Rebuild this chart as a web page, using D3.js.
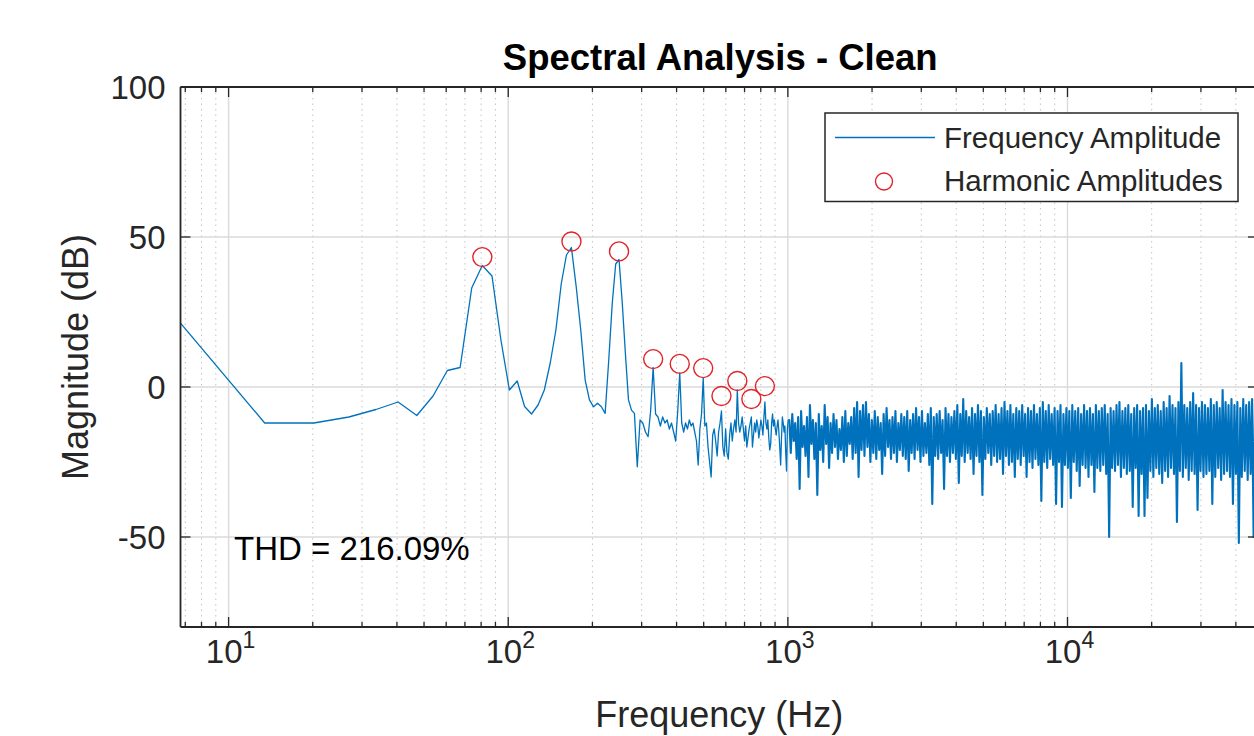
<!DOCTYPE html>
<html><head><meta charset="utf-8">
<script src="https://cdn.jsdelivr.net/npm/d3@7"></script>
<style>
html,body{margin:0;padding:0;background:#fff;overflow:hidden}
svg{display:block}
text{font-family:"Liberation Sans",Arial,Helvetica,sans-serif;fill:#262626}
</style></head><body>
<svg id="c" width="1254" height="736"></svg>
<script>
// ---------- data ----------
const binHz = 6.73; // FFT bin spacing
// magnitude (dB) of FFT bins 1..149
const lowBinDb = [
 21.3,-12,-12,-10,-7.5,-5,-9.5,-3,5.5,6.5,
 33,40.5,37,15.5,-1,2,-6.5,-9,-6,-1,
 8,19,34.5,44,46.5,33.5,19,2.3,-4.3,-6.6,
 -5.4,-6.6,-8.8,9,28,41,42.5,28,11,-4.3,
 -7.7,-8.8,-26.6,-11,-12,-15,-16.6,-8,6.5,-9,
 -10,-13,-10,-12,-11,-14,-12,-15,-18,-8,
 4.7,-12,-15,-12,-14,-11,-13,-12,-15,-18,
 -26,-14,-9,3,-13,-12,-20,-25,-30,-16,
 -14,-18,-23,-15,-12,-8,-20,-23,-14,-22,
 -24,-16,-12,-18,-14,-11,-15,-1,-12,-15,
 -13,-10,-14,-18,-13,-20,-17,-14,-12,-10,
 -20,-16,-12,-15,-11,-13,-17,-14,-11,-13,
 -16,-10,-5,-12,-14,-11,-17,-21,-19,-12,
 -9,-13,-11,-14,-16,-13,-11,-15,-20,-26,
 -17,-10,-12,-15,-13,-22,-28,-14,-11
];
// dense part (1 kHz .. 48 kHz): max / min of bins in each of 160 log-spaced groups
const denseStartHz = 1012, denseEndHz = 48000;
const denseTopDb = [
 -11,-9,-12,-10,-8,-13,-10,-6,-11,-12,
 -9,-13,-6,-10,-12,-9,-11,-14,-10,-8,
 -12,-10,-7,-5,-8,-6,-5,-9,-11,-8,
 -10,-12,-9,-7,-11,-10,-8,-12,-9,-10,
 -8,-11,-9,-7,-10,-8,-12,-9,-7,-10,
 -9,-8,-11,-7,-9,-10,-8,-6,-9,-4,
 -8,-10,-7,-9,-6,-8,-10,-7,-9,-8,
 -6,-9,-7,-5,-8,-6,-9,-7,-8,-6,
 -9,-7,-8,-6,-9,-7,-5,-8,-6,-9,
 -7,-8,-6,-9,-7,-8,-6,-8,-7,-9,
 -6,-8,-7,-9,-6,-8,-7,-6,-9,-7,
 -8,-6,-5,-8,-7,-6,-9,-7,-6,-8,
 -7,-6,-8,-4,-7,-6,-8,-5,-7,-3,
 -6,-7,-5,8,-6,-7,-5,-2,-6,-7,
 -5,-6,-7,-4,-6,-5,-7,-1,-5,-6,
 -4,-6,-5,-7,-4,-6,-5,-4,-6,-5
];
const denseBotDb = [
 -22,-18,-24,-34,-20,-23,-30,-19,-24,-36,
 -21,-25,-19,-27,-22,-20,-24,-21,-25,-23,
 -19,-24,-22,-30,-21,-23,-20,-25,-22,-24,
 -21,-29,-23,-20,-24,-22,-25,-21,-23,-24,
 -28,-22,-24,-21,-25,-23,-22,-26,-39,-23,
 -24,-22,-34,-23,-25,-22,-24,-32,-23,-25,
 -22,-24,-29,-23,-25,-36,-24,-22,-26,-23,
 -25,-24,-29,-23,-26,-25,-30,-24,-26,-23,
 -30,-25,-27,-24,-26,-38,-25,-27,-24,-26,
 -39,-25,-40,-26,-27,-37,-25,-28,-33,-26,
 -27,-30,-26,-35,-27,-28,-26,-29,-50,-27,
 -28,-26,-30,-27,-29,-28,-40,-27,-43,-29,
 -43,-37,-28,-30,-27,-29,-32,-28,-30,-27,
 -29,-45,-28,-30,-27,-31,-28,-29,-41,-28,
 -30,-29,-28,-39,-30,-27,-31,-29,-28,-30,
 -39,-29,-52,-30,-28,-31,-29,-50,-30,-29
];
const harmonicHz = [80.8,168.3,249.0,329.8,410.5,498.0,578.8,659.5,740.3,827.8];
const harmonicDb = [43.3,48.5,45.2,9.3,7.7,6.3,-3.0,2.0,-4.0,0.3];
const xDomain = [6.73, 48000];
const yDomain = [-80, 100];
const xMajorExp = [1,2,3,4];
const yTickValues = [100,50,0,-50];
const titleText = "Spectral Analysis - Clean";
const xLabelText = "Frequency (Hz)";
const yLabelText = "Magnitude (dB)";
const thdText = "THD = 216.09%";
const legendLabels = ["Frequency Amplitude","Harmonic Amplitudes"];

// ---------- layout ----------
const L = 180.5, R = 1258, T = 87, B = 627;
const lineColor = "#0072BD", markColor = "#e0242a", axisColor = "#262626";
const svg = d3.select("#c");
const x = d3.scaleLog().domain(xDomain).range([L, R]);
const y = d3.scaleLinear().domain(yDomain).range([B, T]);

svg.append("defs").append("clipPath").attr("id","clip")
  .append("rect").attr("x",L).attr("y",T).attr("width",R-L).attr("height",B-T);

const xMinor = [];
for (let e = 0; e <= 4; e++) for (let k = 2; k <= 9; k++) {
  const v = k*Math.pow(10,e); if (v >= xDomain[0] && v <= xDomain[1]) xMinor.push(v);
}
const xMajor = xMajorExp.map(e => Math.pow(10,e));

// grid
const g = svg.append("g");
g.selectAll(".mg").data(xMinor).enter().append("line")
  .attr("x1",d=>x(d)).attr("x2",d=>x(d)).attr("y1",T).attr("y2",B)
  .attr("stroke","#c4c4c4").attr("stroke-width",1).attr("stroke-dasharray","1.5,4");
g.selectAll(".Mg").data(xMajor).enter().append("line")
  .attr("x1",d=>x(d)).attr("x2",d=>x(d)).attr("y1",T).attr("y2",B)
  .attr("stroke","#dadada").attr("stroke-width",1.4);
g.selectAll(".yg").data(yTickValues.filter(v=>v<yDomain[1])).enter().append("line")
  .attr("x1",L).attr("x2",R).attr("y1",d=>y(d)).attr("y2",d=>y(d))
  .attr("stroke","#dadada").attr("stroke-width",1.4);

// spectrum line: resolved bins
const lowPts = lowBinDb.map((v,i)=>[(i+1)*binHz, v]);
// dense part as max/min zigzag
const nD = denseTopDb.length;
const r = Math.pow(denseEndHz/denseStartHz, 1/(nD-1));
const densePts = [lowPts[lowPts.length-1]];
denseTopDb.forEach((t,j)=>{
  const f = denseStartHz*Math.pow(r,j);
  densePts.push([f, t]);
  densePts.push([f*Math.sqrt(r), denseBotDb[j]]);
});
const line = d3.line().x(d=>x(d[0])).y(d=>y(d[1]));
const plot = svg.append("g").attr("clip-path","url(#clip)");
plot.append("path").datum(lowPts)
  .attr("d",line).attr("fill","none").attr("stroke",lineColor).attr("stroke-width",1.3)
  .attr("stroke-linejoin","round");
plot.append("path").datum(densePts)
  .attr("d",line).attr("fill","none").attr("stroke",lineColor).attr("stroke-width",2.1)
  .attr("stroke-linejoin","round");

// harmonic markers
svg.selectAll(".h").data(harmonicHz).enter().append("circle")
  .attr("cx",d=>x(d)).attr("cy",(d,i)=>y(harmonicDb[i])).attr("r",9.5)
  .attr("fill","none").attr("stroke",markColor).attr("stroke-width",1.4);

// axes box
const ax = svg.append("g").attr("stroke",axisColor);
ax.append("line").attr("x1",L).attr("x2",R).attr("y1",B).attr("y2",B).attr("stroke-width",1.8);
ax.append("line").attr("x1",L).attr("x2",R).attr("y1",T).attr("y2",T).attr("stroke-width",1.8);
ax.append("line").attr("x1",L).attr("x2",L).attr("y1",T).attr("y2",B).attr("stroke-width",1.8);
ax.append("line").attr("x1",R).attr("x2",R).attr("y1",T).attr("y2",B).attr("stroke-width",1.8);
[[xMajor,10],[xMinor,5]].forEach(([vals,len])=>{
  ax.selectAll(null).data(vals).enter().append("line")
    .attr("x1",d=>x(d)).attr("x2",d=>x(d)).attr("y1",B).attr("y2",B-len).attr("stroke-width",1.3);
  ax.selectAll(null).data(vals).enter().append("line")
    .attr("x1",d=>x(d)).attr("x2",d=>x(d)).attr("y1",T).attr("y2",T+len).attr("stroke-width",1.3);
});
ax.selectAll(null).data(yTickValues).enter().append("line")
  .attr("x1",L).attr("x2",L+10).attr("y1",d=>y(d)).attr("y2",d=>y(d)).attr("stroke-width",1.3);
ax.selectAll(null).data(yTickValues).enter().append("line")
  .attr("x1",R).attr("x2",R-10).attr("y1",d=>y(d)).attr("y2",d=>y(d)).attr("stroke-width",1.3);

// tick labels
svg.selectAll(".yl").data(yTickValues).enter().append("text")
  .attr("x",L-15).attr("y",d=>y(d)+12).attr("text-anchor","end")
  .attr("font-size",33).text(d=>d);
const xl = svg.selectAll(".xl").data(xMajorExp).enter().append("text")
  .attr("x",d=>x(Math.pow(10,d))+2).attr("y",663).attr("text-anchor","middle").attr("font-size",33);
xl.append("tspan").text("10");
xl.append("tspan").attr("font-size",23).attr("dy",-15).text(d=>d);

// labels
svg.append("text").attr("x",(L+R)/2+1).attr("y",70).attr("text-anchor","middle")
  .attr("font-size",36.5).attr("font-weight","bold").style("fill","#000").text(titleText);
svg.append("text").attr("x",(L+R)/2).attr("y",727).attr("text-anchor","middle")
  .attr("font-size",36).text(xLabelText);
svg.append("text").attr("transform",`translate(88,${(T+B)/2}) rotate(-90)`)
  .attr("text-anchor","middle").attr("font-size",36).text(yLabelText);
svg.append("text").attr("x",234).attr("y",y(-50)+23).attr("font-size",33).style("fill","#000").text(thdText);

// legend
const lg = svg.append("g");
lg.append("rect").attr("x",825).attr("y",113).attr("width",413).attr("height",88.5)
  .attr("fill","#fff").attr("stroke",axisColor).attr("stroke-width",1.5);
lg.append("line").attr("x1",835).attr("x2",935).attr("y1",137.5).attr("y2",137.5)
  .attr("stroke",lineColor).attr("stroke-width",1.5);
lg.append("circle").attr("cx",884).attr("cy",181.5).attr("r",8.5)
  .attr("fill","none").attr("stroke",markColor).attr("stroke-width",1.4);
lg.selectAll(".lt").data(legendLabels).enter().append("text")
  .attr("x",944).attr("y",(d,i)=>148+i*43).attr("font-size",29.5).text(d=>d);
</script>
</body></html>
